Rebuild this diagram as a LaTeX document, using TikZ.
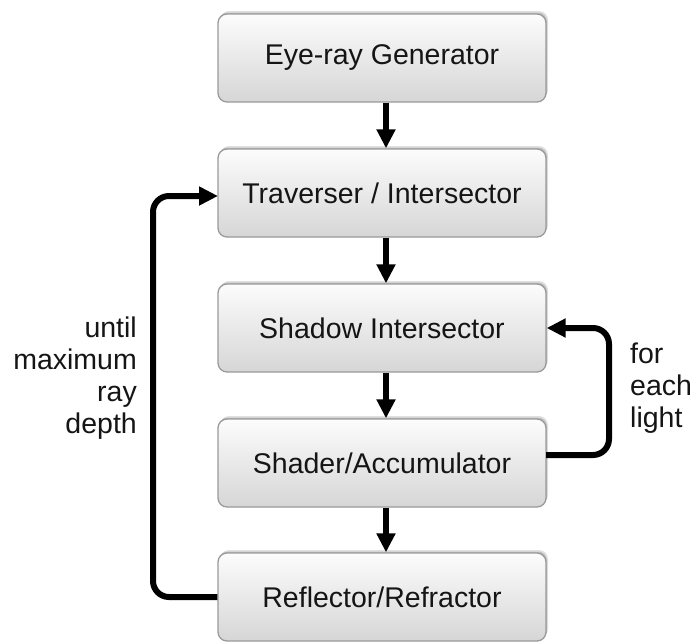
\documentclass[tikz,border=0pt]{standalone}
\usepackage{fontspec}
\setmainfont{Liberation Sans}
\usetikzlibrary{arrows.meta,shadows}
\definecolor{boxtop}{HTML}{FCFCFC}
\definecolor{boxbot}{HTML}{D6D6D6}
\definecolor{boxline}{HTML}{9A9A9A}
\definecolor{txt}{HTML}{151515}
\tikzset{
  stagebox/.style={rectangle, rounded corners=9pt, draw=boxline, line width=1.3pt,
    top color=boxtop, bottom color=boxbot, minimum width=328pt, minimum height=88pt,
    inner sep=0pt, text=txt, font=\fontsize{28.5}{32}\selectfont,
    drop shadow={shadow xshift=2pt, shadow yshift=3pt, opacity=0.12, fill=black},
    drop shadow={shadow xshift=1pt, shadow yshift=1.5pt, opacity=0.15, fill=black}},
  flow/.style={line width=6pt, -{Triangle[length=19pt,width=18pt]}},
  loop/.style={flow, rounded corners=16pt},
  sidelabel/.style={font=\fontsize{28.5}{32}\selectfont, text=txt, inner sep=0pt}
}
\begin{document}
\begin{tikzpicture}[x=1pt,y=-1pt]
\useasboundingbox (0,0) rectangle (699,641);
\node[stagebox] (b1) at (382,58) {Eye-ray Generator};
\node[stagebox] (b2) at (382,193) {Traverser / Intersector};
\node[stagebox] (b3) at (382,328) {Shadow Intersector};
\node[stagebox] (b4) at (382,463) {Shader/Accumulator};
\node[stagebox] (b5) at (382,597) {Reflector/Refractor};
\coordinate (ax) at (386,0);
\coordinate (lx) at (153,0);
\coordinate (rx) at (609,0);
\draw[flow] (b1.south -| ax) -- (b2.north -| ax);
\draw[flow] (b2.south -| ax) -- (b3.north -| ax);
\draw[flow] (b3.south -| ax) -- (b4.north -| ax);
\draw[flow] (b4.south -| ax) -- (b5.north -| ax);
\coordinate (lt) at (218,196);
\draw[loop] (b5.west) -- (b5.west -| lx) -- (lt -| lx) -- (lt);
\coordinate (rs) at (546,455);
\draw[loop] (rs) -- (rs -| rx) -- (b3.east -| rx) -- (b3.east);
\node[sidelabel, anchor=base east, align=right] (l1) at (137,433) {until\\maximum\\ray\\depth};
\node[sidelabel, anchor=base west, align=left] (l2) at (630,427) {for\\each\\light};
\end{tikzpicture}
\end{document}
